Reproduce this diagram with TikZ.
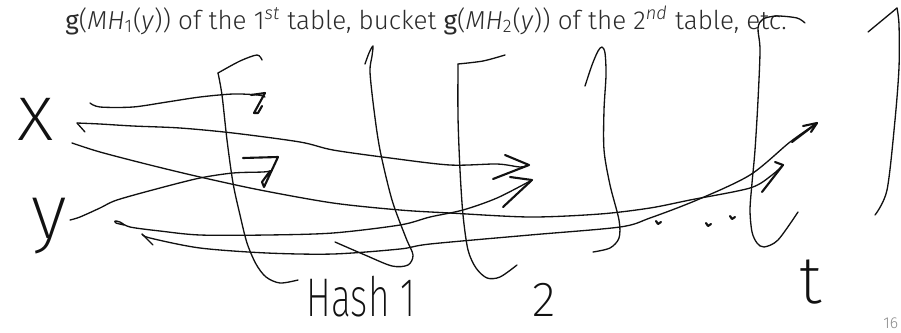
\documentclass[tikz,border=0pt]{standalone}
\usepackage{fontspec}
\setmainfont{Fira Sans Light}[ItalicFont={Fira Sans Light Italic},BoldFont={Fira Sans}]
\newfontfamily\handfont{Fira Sans ExtraLight}
\definecolor{InkBlack}{HTML}{111111}
\definecolor{SlideText}{HTML}{2B2B2B}
\definecolor{PageGray}{HTML}{8A8A8A}

\begin{document}
\begin{tikzpicture}[x=0.02cm, y=-0.02cm, ink/.style={line width=0.75pt, line cap=round, line join=round, draw=InkBlack}, tip/.style={ink, line width=1.2pt}, hand/.style={text=InkBlack, inner sep=0pt}, title/.style={font=\fontsize{14.8}{17}\selectfont, text=SlideText, inner sep=0pt}]
\useasboundingbox (0,0) rectangle (901,332);
\node[title, anchor=base west] (title) at (65,29) {\textbf{g}(\textit{MH}\textsubscript{1}(\textit{y})) of the 1\textsuperscript{\textit{st}} table, bucket \textbf{g}(\textit{MH}\textsubscript{2}(\textit{y})) of the 2\textsuperscript{\textit{nd}} table, etc.};
\node[hand, font=\handfont\fontsize{46}{46}\selectfont] (x) at (36,119) {x};
\node[hand, font=\handfont\fontsize{44}{44}\selectfont] (y) at (49,226) {y};
\node[hand, font=\handfont\fontsize{31}{31}\selectfont] (hash1) at (361,297) {\scalebox{0.68}[1]{Hash 1}};
\node[hand, font=\handfont\fontsize{28}{28}\selectfont] (two) at (544,300) {2};
\node[hand, font=\handfont\fontsize{38}{38}\selectfont] (tee) at (811,282) {t};
\node[anchor=base west, font=\fontsize{9}{11}\selectfont, text=PageGray, inner sep=0pt] (page) at (883,328) {16};
\coordinate (xa) at (90,103); \coordinate (xb) at (77,123); \coordinate (xc) at (72,143);
\coordinate (ya) at (70,220); \coordinate (yb) at (124,225); \coordinate (yc) at (142,234);
\coordinate (h1x) at (265,97); \coordinate (h1y) at (270,171);
\coordinate (h2x) at (529,165); \coordinate (h2y) at (532,180);
\coordinate (htx) at (783,165); \coordinate (hty) at (817,123);
% tables
\draw[ink] plot[smooth] coordinates {(262,60) (257,55) (240,61) (218,73)};
\draw[ink] plot[smooth] coordinates {(218,73) (222,95) (227,140) (233,183) (240,215) (247,243) (256,264) (266,277) (280,283) (298,280)};
\draw[ink] plot[smooth] coordinates {(365,64) (369,53) (373,46) (372,56) (370,72) (374,110) (380,150) (392,200) (406,238) (413,255) (408,265) (392,266) (365,255) (335,242)};
\draw[ink] plot[smooth] coordinates {(505,55) (483,61) (458,64)};
\draw[ink] plot[smooth] coordinates {(458,64) (458,117) (460,170) (463,215) (468,250) (476,268) (487,278) (500,277) (517,265)};
\draw[ink] plot[smooth] coordinates {(585,86) (592,65) (598,51) (602,47) (605,53) (606,75) (604,110) (604,150) (610,185) (619,220) (619,238) (610,248) (593,252)};
\draw[ink] plot[smooth] coordinates {(805,23) (797,18) (777,16) (763,19) (758,28) (760,50) (758,100) (755,150) (752,183) (750,210) (752,232) (757,243) (764,247) (778,240) (798,212)};
\draw[ink] (868,32) -- (897,8);
\draw[ink] plot[smooth] coordinates {(897,8) (899,25) (899,67) (895,120) (887,190) (875,215)};
% x
\draw[ink] plot[smooth] coordinates {(xa) (100,107) (133,107) (167,102) (200,97) (233,94) (258,95) (h1x)};
\draw[tip] (251,95) -- (265,93) -- (254,113) -- (258,113) -- (262,106);
\draw[ink] (85,132) -- (xb);
\draw[ink] plot[smooth] coordinates {(xb) (100,124) (133,126) (180,128) (233,133) (300,142) (333,150) (390,158) (450,165) (497,164) (520,167) (h2x)};
\draw[tip] (505,155) -- (h2x) -- (493,179);
\draw[ink] plot[smooth] coordinates {(xc) (100,152) (150,165) (200,177) (260,190) (333,203) (400,210) (450,213) (530,217) (600,214) (650,208) (690,200) (750,188) (772,175) (htx)};
\draw[tip] (775,162) -- (htx) -- (762,192);
% y
\draw[ink] plot[smooth] coordinates {(ya) (80,217) (100,208) (117,200) (160,188) (200,178) (233,173) (263,172) (h1y)};
\draw[tip] (243,158) -- (278,157) -- (264,187) -- (262,182) -- (h1y);
\draw[ink] plot[smooth] coordinates {(yb) (116,223) (115,221) (120,222) (130,227) (160,231) (200,235) (267,235) (333,233) (400,225) (430,217) (463,210) (497,198) (h2y)};
\draw[tip] (510,177) -- (h2y) -- (503,207);
\draw[ink] (153,245) -- (yc);
\draw[ink] plot[smooth] coordinates {(yc) (150,238) (200,248) (267,253) (333,254) (400,249) (430,244) (530,235) (620,227) (650,218) (697,200) (750,175) (790,142) (hty)};
\draw[tip] (792,142) -- (hty);
\draw[tip] (803,126) -- (hty) -- (811,132);
% dots
\draw[tip] (656,221) -- (658,224) -- (661,222);
\draw[tip] (706,223) -- (708,226) -- (711,224);
\draw[tip] (730,216) -- (732,219) -- (735,217);
\end{tikzpicture}
\end{document}
